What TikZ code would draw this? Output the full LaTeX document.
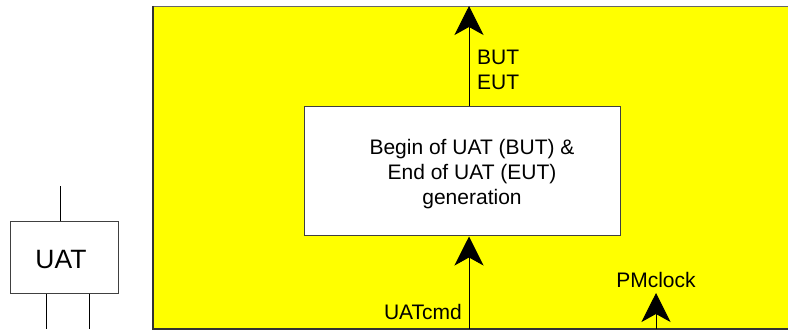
\documentclass[tikz,border=0pt]{standalone}
\usepackage{fontspec}
\setmainfont{Liberation Sans}
\usetikzlibrary{arrows.meta}
\definecolor{pureyellow}{RGB}{255,255,0}
\begin{document}
\begin{tikzpicture}[x=1pt,y=-1pt,
  line/.style={draw=black, line width=1pt},
  bigarrow/.style={line, -{Stealth[length=29pt,width=29pt,inset=8pt]}},
  lbl/.style={font=\fontsize{21}{25}\selectfont, inner sep=0pt},
  genbox/.style={draw=black!75, line width=1pt, fill=white, minimum width=316pt, minimum height=129pt, inner sep=0pt},
  uatbox/.style={draw=black!75, line width=1pt, fill=white, minimum width=108pt, minimum height=72pt, inner sep=0pt}]
\useasboundingbox (0,0) rectangle (788,331);
% yellow region
\fill[pureyellow] (153,6) rectangle (788,329);
\draw[draw=black!60, line width=0.8pt] (788,6) -- (153,6);
\draw[draw=black!80, line width=1.4pt] (153,6) -- (153,329) -- (788,329);
% generation box
\node[genbox] (gen) at (462,171.5) {};
\node[lbl, align=center] (gentext) at (472,174) {Begin of UAT (BUT) \&\\End of UAT (EUT)\\generation};
% connectors
\coordinate (outtop) at (469,6);
\coordinate (incmd) at (469,329);
\coordinate (pmbot) at (656,329);
\coordinate (pmtop) at (656,293);
\draw[bigarrow] (gen.north -| outtop) -- (outtop);
\draw[bigarrow] (incmd) -- (gen.south -| incmd);
\draw[bigarrow] (pmbot) -- (pmtop);
% labels
\node[lbl, anchor=north west, align=left] (buteut) at (477,50) {BUT\\EUT};
\node[lbl, anchor=base east] (uatcmd) at (462,320) {UATcmd};
\node[lbl, anchor=base] (pmclock) at (656,288) {PMclock};
% UAT block
\node[uatbox] (uat) at (64,258) {};
\node[font=\fontsize{26.5}{30}\selectfont, inner sep=0pt, anchor=base] (uattext) at (61,269) {UAT};
\coordinate (uattop) at (60,186);
\coordinate (uatb1) at (46,329);
\coordinate (uatb2) at (89,329);
\draw[line] (uat.north -| uattop) -- (uattop);
\draw[line] (uat.south -| uatb1) -- (uatb1);
\draw[line] (uat.south -| uatb2) -- (uatb2);
\end{tikzpicture}
\end{document}
